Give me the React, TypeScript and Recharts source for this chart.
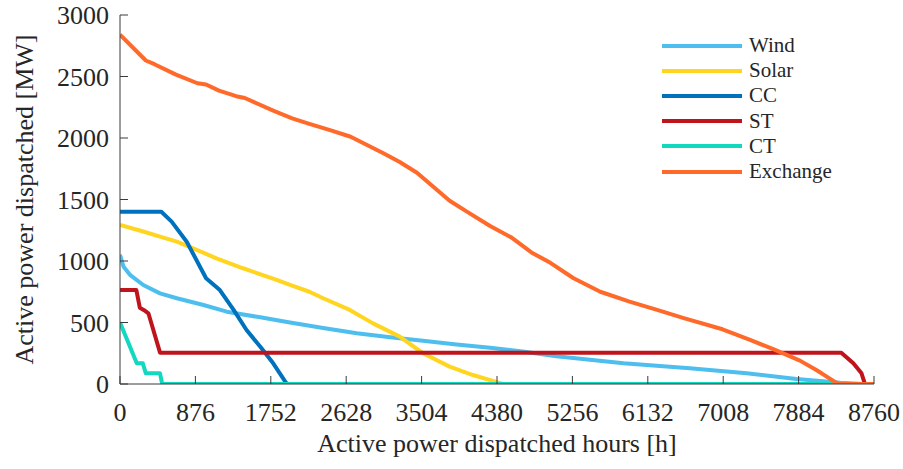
import React from 'react';
import { LineChart, Line, XAxis, YAxis, Legend, Label } from 'recharts';

// Load duration curves, [hour rank, MW]
const windCurve = [
  [0, 1050], [40, 955], [120, 885], [270, 805], [465, 737], [660, 697], [970, 642],
  [1240, 588], [1630, 542], [1975, 500], [2360, 455], [2750, 412], [3140, 380],
  [3520, 352], [3910, 322], [4300, 295], [4700, 262], [5070, 225], [5850, 168],
  [6620, 128], [7280, 87], [7860, 40], [8370, 10], [8640, 0], [8760, 0],
];
const solarCurve = [
  [0, 1293], [270, 1240], [465, 1198], [660, 1157], [850, 1103], [1120, 1022],
  [1430, 941], [1820, 846], [1975, 805], [2200, 750], [2360, 697], [2670, 602],
  [2940, 493], [3250, 385], [3520, 250], [3830, 141], [4100, 73], [4380, 15],
  [4450, 0], [8760, 0],
];
const ccCurve = [
  [0, 1400], [480, 1400], [600, 1320], [775, 1157], [1000, 860], [1160, 764],
  [1320, 602], [1470, 439], [1630, 303], [1780, 168], [1920, 20], [1940, 0], [8760, 0],
];
const stCurve = [
  [0, 764], [190, 764], [230, 620], [280, 600], [330, 575], [465, 255],
  [8380, 255], [8520, 168], [8615, 87], [8655, 0], [8760, 0],
];
const ctCurve = [
  [0, 500], [195, 168], [265, 168], [300, 87], [465, 87], [490, 0], [8760, 0],
];
const exchangeCurve = [
  [0, 2840], [300, 2630], [400, 2600], [650, 2515], [900, 2445], [1000, 2435],
  [1150, 2385], [1350, 2340], [1450, 2325], [1780, 2222], [2000, 2160], [2200, 2115],
  [2450, 2062], [2680, 2010], [3060, 1876], [3250, 1805], [3450, 1718], [3640, 1604],
  [3830, 1490], [4030, 1401], [4300, 1285], [4550, 1190], [4780, 1070], [5000, 985],
  [5270, 860], [5580, 750], [5920, 670], [6240, 602], [6550, 535], [7000, 445],
  [7320, 358], [7590, 283], [7900, 190], [8100, 110], [8210, 60], [8345, 0], [8760, 0],
];

const hourTicks = [0, 876, 1752, 2628, 3504, 4380, 5256, 6132, 7008, 7884, 8760];
const mwTicks = [0, 500, 1000, 1500, 2000, 2500, 3000];

const series = [
  { name: 'Wind', color: '#4DBEEE', curve: windCurve },
  { name: 'Solar', color: '#FFD51F', curve: solarCurve },
  { name: 'CC', color: '#0072BD', curve: ccCurve },
  { name: 'ST', color: '#C0141C', curve: stCurve },
  { name: 'CT', color: '#12D8C0', curve: ctCurve },
  { name: 'Exchange', color: '#FF6A2A', curve: exchangeCurve },
];

const toRows = (curve: number[][]) => curve.map(([h, mw]) => ({ h, mw }));

const FONT = 'Liberation Serif';
const INK = '#262626';
const AXIS = '#3a3a3a';
const TICK_LEN = 8;

// MATLAB-style inward ticks on all four sides
const BottomTick = ({ x, y, payload }: any) => (
  <g>
    <line x1={x} x2={x} y1={y} y2={y - TICK_LEN} stroke={AXIS} strokeWidth={1} />
    <text x={x} y={y + 37} textAnchor="middle" fill={INK} fontSize={26} fontFamily={FONT}>
      {payload.value}
    </text>
  </g>
);
const TopTick = ({ x, y }: any) => (
  <line x1={x} x2={x} y1={y} y2={y + TICK_LEN} stroke={AXIS} strokeWidth={1} />
);
const LeftTick = ({ x, y, payload }: any) => (
  <g>
    <line x1={x} x2={x + TICK_LEN} y1={y} y2={y} stroke={AXIS} strokeWidth={1} />
    <text x={x - 11} y={y + 9} textAnchor="end" fill={INK} fontSize={26} fontFamily={FONT}>
      {payload.value}
    </text>
  </g>
);
const RightTick = ({ x, y }: any) => (
  <line x1={x} x2={x - TICK_LEN} y1={y} y2={y} stroke={AXIS} strokeWidth={1} />
);

const YTitle = ({ viewBox }: any) => {
  const cy = viewBox.y + viewBox.height / 2;
  return (
    <text
      x={33}
      y={cy}
      transform={`rotate(-90, 33, ${cy})`}
      textAnchor="middle"
      fill={INK}
      fontSize={26}
      fontFamily={FONT}
    >
      Active power dispatched [MW]
    </text>
  );
};

const XTitle = ({ viewBox }: any) => (
  <text
    x={viewBox.x + viewBox.width / 2}
    y={viewBox.y + viewBox.height - 17}
    textAnchor="middle"
    fill={INK}
    fontSize={26}
    fontFamily={FONT}
  >
    Active power dispatched hours [h]
  </text>
);

// legend keeps the plotting order of the series
const LegendBox = () => (
  <div style={{ fontFamily: FONT, fontSize: 21, color: INK }}>
    {series.map((s) => (
      <div key={s.name} style={{ display: 'flex', alignItems: 'center', height: 25.2, lineHeight: '25.2px' }}>
        <svg width={80} height={6} style={{ marginRight: 7 }}>
          <line x1={0} x2={80} y1={3} y2={3} stroke={s.color} strokeWidth={4} />
        </svg>
        <span style={{ fontFamily: FONT }}>{s.name}</span>
      </div>
    ))}
  </div>
);

export default function App() {
  return (
    <div style={{ position: 'absolute', left: 0, top: 0, width: 903, height: 469, background: '#fff' }}>
      <LineChart width={903} height={469} margin={{ top: 15, right: 29, bottom: 0, left: 0 }}>
        <XAxis
          xAxisId="main"
          dataKey="h"
          type="number"
          domain={[0, 8760]}
          ticks={hourTicks}
          allowDataOverflow
          height={85}
          stroke={AXIS}
          tickLine={false}
          tickSize={0}
          tickMargin={0}
          tick={<BottomTick />}
          interval={0}
        >
          <Label content={<XTitle />} />
        </XAxis>
        <XAxis
          xAxisId="top"
          orientation="top"
          dataKey="h"
          type="number"
          domain={[0, 8760]}
          ticks={hourTicks}
          allowDataOverflow
          height={0}
          stroke={AXIS}
          tickLine={false}
          tickSize={0}
          tickMargin={0}
          tick={<TopTick />}
          interval={0}
        />
        <YAxis
          yAxisId="main"
          type="number"
          domain={[0, 3000]}
          ticks={mwTicks}
          allowDataOverflow
          width={120}
          stroke={AXIS}
          tickLine={false}
          tickSize={0}
          tickMargin={0}
          tick={<LeftTick />}
          interval={0}
        >
          <Label content={<YTitle />} />
        </YAxis>
        <YAxis
          yAxisId="right"
          orientation="right"
          type="number"
          domain={[0, 3000]}
          ticks={mwTicks}
          allowDataOverflow
          width={0}
          stroke={AXIS}
          tickLine={false}
          tickSize={0}
          tickMargin={0}
          tick={<RightTick />}
          interval={0}
        />
        <Legend
          layout="vertical"
          align="center"
          verticalAlign="middle"
          wrapperStyle={{ left: 662, top: 33, width: 200 }}
          content={<LegendBox />}
        />
        {series.map((s) => (
          <Line
            key={s.name}
            xAxisId="main"
            yAxisId="main"
            data={toRows(s.curve)}
            dataKey="mw"
            name={s.name}
            type="linear"
            stroke={s.color}
            strokeWidth={4}
            strokeLinejoin="round"
            dot={false}
            activeDot={false}
            isAnimationActive={false}
          />
        ))}
      </LineChart>
    </div>
  );
}
